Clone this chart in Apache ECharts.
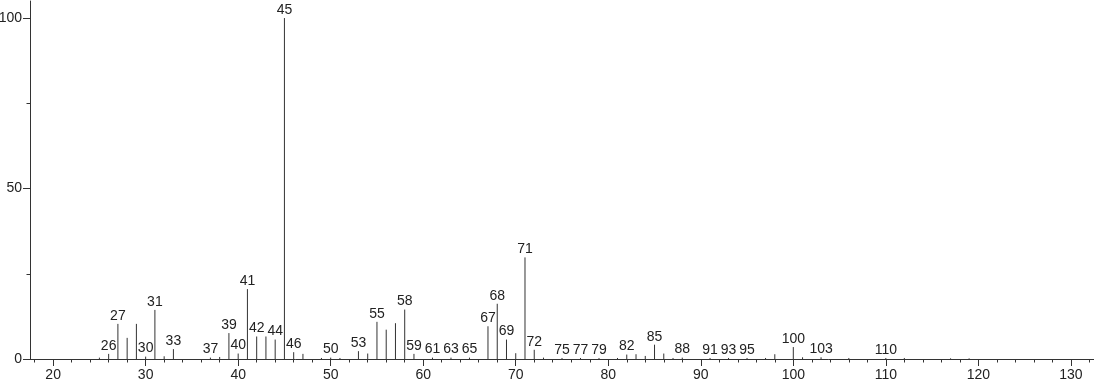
<!DOCTYPE html>
<html>
<head>
<meta charset="utf-8">
<script src="https://cdn.jsdelivr.net/npm/echarts@6/dist/echarts.min.js"></script>
<style>
html,body{margin:0;padding:0;background:#fff;}
#chart{width:1094px;height:384px;}
</style>
</head>
<body>
<div id="chart"></div>
<script>
// m/z values and relative intensities (%)
var mzValues = [25,26,27,28,29,30,31,32,33,37,38,39,40,41,42,43,44,45,46,47,49,50,51,53,54,55,56,57,58,59,61,63,65,67,68,69,70,71,72,73,75,77,79,81,82,83,84,85,86,87,88,91,93,95,97,98,100,101,103,106,110,112,117,119];
var intensities = [0.4,1.5,10.3,6.2,10.3,0.7,14.4,0.8,2.9,0.4,0.6,7.6,1.6,20.5,6.6,6.6,5.7,100,2.0,1.5,0.3,0.4,0.3,2.3,1.6,10.9,8.6,10.5,14.5,1.5,0.4,0.4,0.4,9.6,16.2,5.7,1.7,29.8,2.7,0.4,0.3,0.3,0.3,0.3,1.3,1.4,0.9,4.2,1.6,0.3,0.4,0.3,0.3,0.3,0.3,1.4,3.5,0.5,0.5,0.3,0.3,0.3,0.2,0.2];
var labeledPeaks = [26,27,30,31,33,37,39,40,41,42,44,45,46,50,53,55,58,59,61,63,65,67,68,69,71,72,75,77,79,82,85,88,91,93,95,100,103,110];
var xLabelValues = [20,30,40,50,60,70,80,90,100,110,120,130];
var xMinorTicks = [18,22,24,26,28,32,34,36,38,42,44,46,48,52,54,56,58,62,64,66,68,72,74,76,78,82,84,86,88,92,94,96,98,102,104,106,108,112,114,116,118,122,124,126,128,132];
var yLabelValues = [0,50,100];
var yMinorTicks = [25,75];

var FONT_FAMILY = '"Liberation Sans", Arial, sans-serif';
var FONT_SIZE = 14;
var AXIS_COLOR = '#333';

var seriesData = mzValues.map(function (mz, i) {
  return [mz, intensities[i], labeledPeaks.indexOf(mz) >= 0 ? 1 : 0];
});

function renderPeak(params, api) {
  var mz = api.value(0);
  var inten = api.value(1);
  var base = api.coord([mz, 0]);
  var top = api.coord([mz, inten]);
  var children = [{
    type: 'line',
    shape: { x1: base[0], y1: base[1], x2: top[0], y2: top[1] },
    style: { stroke: '#333', lineWidth: 1 }
  }];
  if (api.value(2) === 1) {
    children.push({
      type: 'text',
      style: {
        text: String(mz),
        x: top[0], y: top[1] - 1,
        align: 'center', verticalAlign: 'bottom',
        fill: '#222',
        font: FONT_SIZE + 'px ' + FONT_FAMILY
      }
    });
  }
  return { type: 'group', children: children };
}

var chart = echarts.init(document.getElementById('chart'), null, { renderer: 'canvas' });
chart.setOption({
  animation: false,
  backgroundColor: '#fff',
  grid: { left: 30, right: 0, top: 1, bottom: 25, containLabel: false, outerBoundsMode: 'none' },
  xAxis: [{
    type: 'value', min: 17.5, max: 132.5,
    axisLine: { show: true, lineStyle: { color: AXIS_COLOR, width: 1 } },
    axisTick: { show: true, length: 7, customValues: xLabelValues, lineStyle: { color: AXIS_COLOR } },
    axisLabel: { show: true, customValues: xLabelValues, margin: 9, color: '#222', fontSize: FONT_SIZE, fontFamily: FONT_FAMILY },
    splitLine: { show: false }
  }, {
    type: 'value', min: 17.5, max: 132.5, position: 'bottom',
    axisLine: { show: false },
    axisTick: { show: true, length: 3.5, customValues: xMinorTicks, lineStyle: { color: AXIS_COLOR } },
    axisLabel: { show: false },
    splitLine: { show: false }
  }],
  yAxis: [{
    type: 'value', min: 0, max: 105,
    axisLine: { show: true, lineStyle: { color: AXIS_COLOR, width: 1 } },
    axisTick: { show: true, length: 7, customValues: yLabelValues, lineStyle: { color: AXIS_COLOR } },
    axisLabel: { show: true, customValues: yLabelValues, margin: 8, color: '#222', fontSize: FONT_SIZE, fontFamily: FONT_FAMILY },
    splitLine: { show: false }
  }, {
    type: 'value', min: 0, max: 105, position: 'left',
    axisLine: { show: false },
    axisTick: { show: true, length: 3.5, customValues: yMinorTicks, lineStyle: { color: AXIS_COLOR } },
    axisLabel: { show: false },
    splitLine: { show: false }
  }],
  series: [{
    type: 'custom',
    xAxisIndex: 0, yAxisIndex: 0,
    renderItem: renderPeak,
    clip: false,
    encode: { x: 0, y: 1 },
    data: seriesData
  }]
});
</script>
</body>
</html>
